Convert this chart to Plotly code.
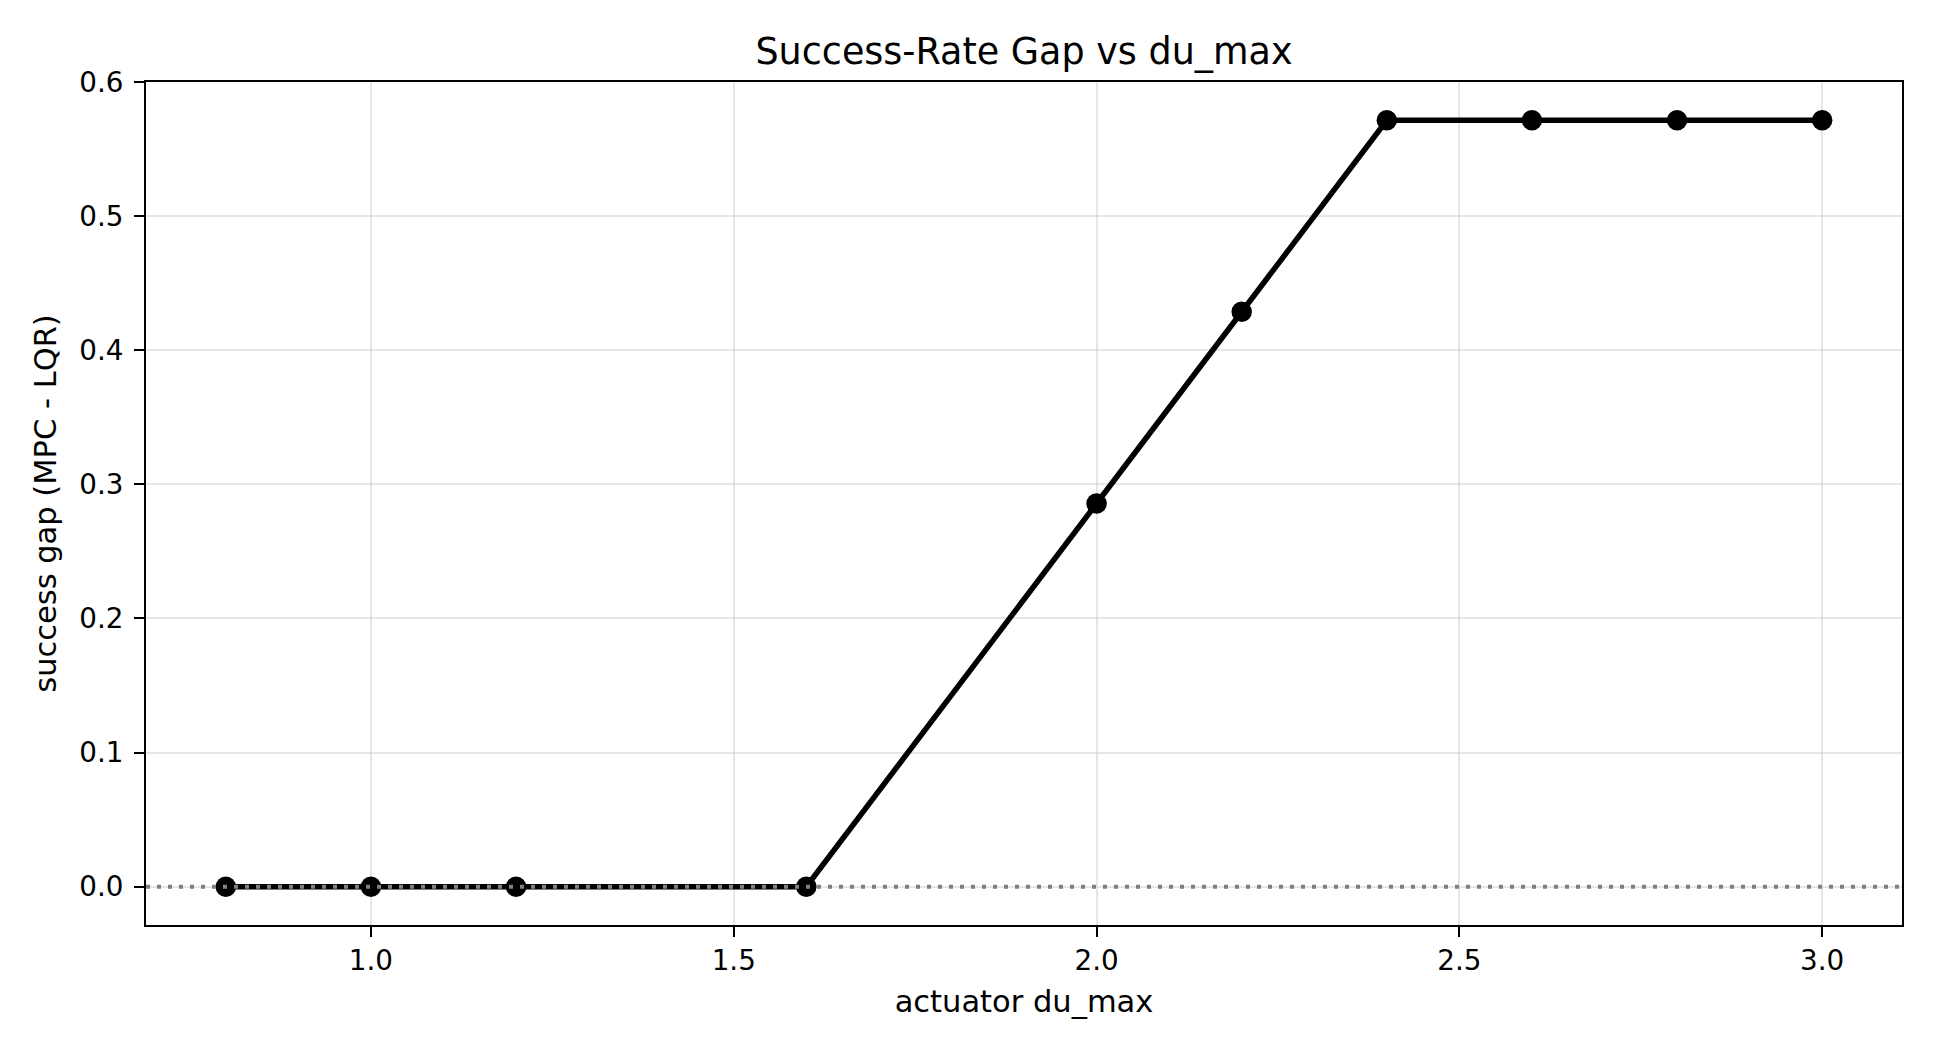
import plotly.graph_objects as go

du_max = [0.8, 1.0, 1.2, 1.6, 2.0, 2.2, 2.4, 2.6, 2.8, 3.0]
success_gap = [0.0, 0.0, 0.0, 0.0, 0.2857, 0.4286, 0.5714, 0.5714, 0.5714, 0.5714]
x_ticks = [1.0, 1.5, 2.0, 2.5, 3.0]
y_ticks = [0.0, 0.1, 0.2, 0.3, 0.4, 0.5, 0.6]

FONT = "DejaVu Sans"
W, H = 1928, 1048

fig = go.Figure()
fig.add_trace(go.Scatter(
    x=du_max, y=success_gap, mode="lines+markers",
    line=dict(color="black", width=5.5),
    marker=dict(color="black", size=20.5),
    showlegend=False,
))

fig.add_shape(type="line", xref="paper", x0=0, x1=1, yref="y", y0=0, y1=0,
              line=dict(color="rgba(128,128,128,1)", width=4, dash="4px,7px"),
              layer="above")

axis_common = dict(
    showline=True, mirror=True, linecolor="black", linewidth=2,
    ticks="outside", ticklen=10, tickwidth=2, tickcolor="black",
    showgrid=True, gridcolor="rgba(205,205,205,0.5)", gridwidth=1.5,
    zeroline=False,
    tickfont=dict(family=FONT, size=27.8, color="black"),
)

fig.update_xaxes(
    range=[0.69, 3.11], tickvals=x_ticks, ticktext=[f"{v:.1f}" for v in x_ticks],
    title=dict(text="actuator du_max", font=dict(family=FONT, size=30.5, color="black"), standoff=14),
    **axis_common,
)
fig.update_yaxes(
    range=[-0.02857, 0.6], tickvals=y_ticks, ticktext=[f"{v:.1f}" for v in y_ticks],
    title=dict(text="success gap (MPC - LQR)", font=dict(family=FONT, size=30.5, color="black"), standoff=14),
    ticklabelstandoff=5,
    **axis_common,
)

fig.update_layout(
    width=W, height=H,
    margin=dict(l=138, r=34, t=73.5, b=131),
    plot_bgcolor="white", paper_bgcolor="white",
    title=dict(text="Success-Rate Gap vs du_max", x=0.5, xref="paper", xanchor="center",
               y=1 - 56/H, yanchor="bottom", yref="container",
               font=dict(family=FONT, size=36.5, color="black")),
    font=dict(family=FONT, color="black"),
)

fig.write_html("out.html")
